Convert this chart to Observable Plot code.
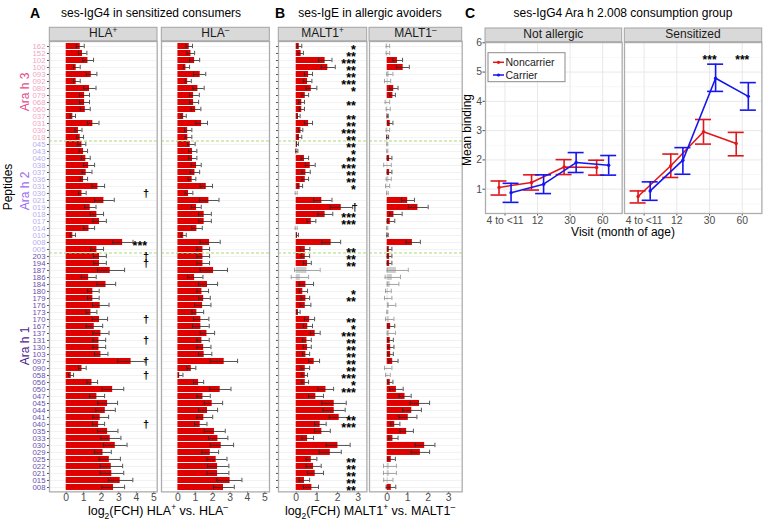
<!DOCTYPE html>
<html><head><meta charset="utf-8">
<script src="https://cdn.jsdelivr.net/npm/d3@7"></script>
<script src="https://cdn.jsdelivr.net/npm/@observablehq/plot@0.6"></script>
<style>
body{margin:0;background:#fff;font-family:"Liberation Sans",Arial,sans-serif;}
#root{position:relative;width:765px;height:527px;overflow:hidden;background:#fff;}
</style></head><body><div id="root"></div>
<script>
// ---------------- DATA ----------------
const araH3 = ["162","152","102","100","093","092","080","079","068","060","037","031","030","018"];
const araH2 = ["045","043","040","038","037","036","031","030","021","019","018","017","014","010","008","005"];
const araH1 = ["203","194","187","186","184","180","179","176","173","170","167","137","131","130","103","097","090","058","056","050","047","045","044","041","040","035","033","030","029","025","022","021","015","008"];

// Panel A, HLA+ (log2 FCH) with error-bar limits
const hlaPosValue = [0.8,0.93,1.24,0.57,1.43,0.57,1.33,1.05,1.05,1.09,0.38,1.52,0.7,0.8,
 0.9,0.99,1.12,1.28,1.14,0.99,1.81,0.9,2.15,1.37,1.75,1.9,1.3,0.38,3.22,1.75,
 1.9,1.9,2.51,1.28,2.27,1.52,1.52,1.94,1.41,1.9,1.6,1.98,1.87,1.87,1.98,3.7,0.9,0.29,1.47,2.65,1.75,2.36,2.23,1.94,1.85,2.36,2.51,2.8,2.1,2.46,2.57,2.6,3.08,2.7];
const hlaPosLow = [0.57,0.7,0.95,0.42,1.14,0.42,1.0,0.76,0.76,0.8,0.23,1.22,0.5,0.6,
 0.65,0.74,0.86,0.99,0.9,0.8,1.47,0.7,1.62,1.05,1.37,1.52,1.0,0.23,2.67,1.4,
 1.56,1.56,1.79,0.86,1.75,1.22,1.22,1.5,1.14,1.48,1.14,1.52,1.52,1.52,1.62,2.93,0.7,0.13,1.18,2.04,1.33,1.79,1.69,1.52,1.5,1.79,1.98,2.13,1.62,1.88,1.94,1.94,2.41,2.03];
const hlaPosHigh = [1.03,1.18,1.56,0.8,1.75,0.8,1.7,1.33,1.33,1.37,0.53,1.87,0.9,0.99,
 1.12,1.22,1.37,1.62,1.47,1.22,2.19,1.14,2.74,1.7,2.13,2.29,1.62,0.53,3.81,2.13,
 2.29,2.29,3.33,1.71,2.82,1.88,1.88,2.44,1.75,2.36,2.08,2.44,2.25,2.25,2.38,4.5,1.14,0.42,1.79,3.28,2.19,2.93,2.8,2.42,2.19,2.95,3.12,3.47,2.57,3.09,3.22,3.28,3.8,3.33];
const hlaPosSig = ["","","","","","","","","","","","","","",
 "","","","","","","","†","","","","","","","***","",
 "†","†","","","","","","","","†","","","†","","","†","","†","","","","","","","†","","","","","","","","",""];

// Panel A, HLA-
const hlaNegValue = [0.65,0.75,0.96,0.46,1.28,0.56,1.15,0.9,0.9,1.02,0.33,1.36,0.56,0.57,
 0.71,0.84,0.84,1.07,0.98,0.82,1.63,0.61,1.78,1.07,1.51,1.51,1.09,0.33,1.82,1.44,
 1.44,1.44,2.05,0.96,1.7,1.38,1.48,1.42,1.09,1.32,1.32,1.67,1.38,1.48,1.51,2.66,0.77,0.1,1.19,2.43,1.44,1.97,1.7,1.49,1.28,2.1,2.3,2.49,1.86,2.2,2.28,2.28,3.0,2.62];
const hlaNegLow = [0.46,0.52,0.67,0.33,0.9,0.42,0.86,0.67,0.67,0.75,0.19,1.03,0.38,0.42,
 0.56,0.61,0.61,0.77,0.71,0.59,1.28,0.42,1.25,0.77,1.19,1.19,0.8,0.19,1.28,1.09,
 1.09,1.09,1.28,0.56,1.19,1.09,1.19,0.96,0.8,0.9,0.84,1.28,1.09,1.09,1.19,1.86,0.52,0.04,0.9,1.82,1.09,1.51,1.19,1.09,0.96,1.51,1.76,1.86,1.38,1.67,1.71,1.67,2.24,2.05];
const hlaNegHigh = [0.84,0.96,1.25,0.67,1.6,0.77,1.51,1.23,1.19,1.32,0.48,1.7,0.8,0.8,
 0.99,1.09,1.09,1.34,1.25,1.03,1.99,0.86,2.36,1.34,1.92,1.92,1.4,0.48,2.43,1.82,
 1.82,1.82,2.85,1.44,2.28,1.76,1.86,1.9,1.48,1.78,1.8,2.11,1.8,1.9,1.95,3.43,1.03,0.29,1.48,3.05,1.86,2.57,2.28,2.0,1.67,2.72,2.87,3.2,2.34,2.82,2.93,2.93,3.68,3.24];

// Panel B, MALT1+
const malt1PosValue = [0.15,0.24,1.4,1.53,0.6,0.55,0.73,0.44,0.27,0.27,0.11,0.6,0.23,0.16,
 0.06,0.03,0.4,0.68,0.47,0.44,0.19,0.0,1.24,2.18,1.4,0.73,0.0,0.06,1.69,0.44,
 0.44,0.55,0.52,0.2,0.47,0.32,0.47,0.44,0.11,0.65,0.56,0.92,0.52,0.55,0.47,0.87,0.44,0.44,0.44,1.44,0.95,1.84,1.84,2.08,1.16,1.24,0.55,2.02,1.65,0.73,0.84,0.92,0.4,0.76];
const malt1PosLow = [0.05,0.08,1.08,1.21,0.4,0.35,0.48,0.27,0.11,0.15,0.05,0.4,0.11,0.06,
 0.02,-0.02,0.24,0.44,0.27,0.27,0.08,-0.05,0.84,1.65,1.05,0.52,-0.05,0.02,1.24,0.2,
 0.24,0.35,-0.08,-0.24,0.15,0.15,0.24,0.19,0.03,0.4,0.35,0.68,0.31,0.35,0.31,0.6,0.24,0.27,0.27,1.05,0.6,1.24,1.29,1.6,0.89,0.89,0.27,1.45,1.11,0.48,0.48,0.55,0.15,0.35];
const malt1PosHigh = [0.27,0.35,1.73,1.89,0.79,0.76,1.0,0.6,0.4,0.4,0.19,0.79,0.32,0.27,
 0.11,0.08,0.6,0.92,0.68,0.6,0.31,0.05,1.73,2.73,1.77,0.95,0.05,0.11,2.15,0.66,
 0.65,0.73,1.16,0.6,0.84,0.55,0.65,0.71,0.19,0.89,0.79,1.16,0.73,0.73,0.65,1.13,0.65,0.55,0.6,1.81,1.32,2.42,2.37,2.56,1.45,1.65,0.84,2.61,2.18,1.0,1.21,1.32,0.65,1.08];
const malt1PosSig = ["*","**","***","**","**","***","*","","**","","**","**","***","**",
 "**","*","**","***","**","**","*","","","†","***","***","","","","**",
 "**","**","","","","*","**","","","**","*","***","**","**","**","**","**","***","*","***","","","","**","***","","","","","**","**","**","**","**"];
const malt1PosGray = ["h2-030","h2-014","h1-187","h1-186"];

// Panel B, MALT1-
const malt1NegValue = [0.03,0.03,0.5,0.78,0.1,0.05,0.32,0.28,0.02,0.03,0.02,0.15,0.03,0.03,
 0.01,0.01,0.12,0.03,0.12,0.08,0.03,0.01,1.0,1.5,0.33,0.15,0.0,0.02,1.23,0.1,
 0.12,0.12,0.45,0.25,0.15,0.05,0.03,0.1,0.0,0.1,0.17,0.12,0.15,0.17,0.17,0.27,0.02,0.03,0.15,0.45,0.87,1.58,1.2,1.03,0.37,0.95,0.28,1.83,1.62,0.2,0.1,0.1,0.05,0.2];
const malt1NegLow = [-0.05,-0.05,0.28,0.45,-0.02,-0.13,0.12,0.12,-0.1,-0.05,0.0,0.03,-0.05,-0.03,
 -0.02,-0.02,0.0,-0.17,0.0,-0.05,-0.08,-0.03,0.7,1.03,0.12,0.0,-0.03,-0.01,0.92,0.03,
 0.0,0.0,0.0,-0.1,0.0,-0.08,-0.13,0.03,-0.02,-0.08,0.03,0.0,0.03,0.03,0.03,0.07,-0.13,-0.08,0.03,0.12,0.58,1.12,0.75,0.58,0.17,0.62,0.08,1.37,1.17,0.03,-0.18,-0.18,-0.17,-0.05];
const malt1NegHigh = [0.12,0.12,0.75,1.08,0.28,0.17,0.53,0.4,0.12,0.15,0.05,0.28,0.12,0.07,
 0.03,0.03,0.23,0.2,0.23,0.2,0.12,0.05,1.33,2.0,0.73,0.37,0.03,0.05,1.62,0.23,
 0.23,0.23,1.03,0.65,0.57,0.2,0.23,0.42,0.03,0.33,0.37,0.4,0.3,0.33,0.3,0.53,0.23,0.15,0.28,0.78,1.17,2.07,1.67,1.45,0.62,1.28,0.53,2.33,2.07,0.4,0.45,0.45,0.28,0.42];
const malt1NegGray = ["h3-162","h3-152","h3-093","h3-092","h3-068","h3-060","h3-030","h2-045","h2-043","h2-038","h2-036","h2-031","h2-030","h2-014","h1-187","h1-186","h1-184","h1-180","h1-179","h1-176","h1-173","h1-170","h1-137","h1-090","h1-058","h1-022","h1-021","h1-015"];

// Panel C
const visits = ["4 to <11","12","30","60"];
const naNoncarrier = [1.06,1.23,1.76,1.74], naNoncarrierLow = [0.8,0.97,1.5,1.48], naNoncarrierHigh = [1.28,1.49,2.01,1.99];
const naCarrier = [0.88,1.17,1.91,1.82], naCarrierLow = [0.55,0.85,1.57,1.48], naCarrierHigh = [1.2,1.49,2.25,2.15];
const seNoncarrier = [0.75,1.8,2.96,2.56], seNoncarrierLow = [0.53,1.4,2.54,2.14], seNoncarrierHigh = [0.94,2.2,3.38,2.94];
const seCarrier = [0.94,1.99,4.79,4.17], seCarrierLow = [0.62,1.51,4.34,3.7], seCarrierHigh = [1.25,2.42,5.27,4.64];
const seSig = ["","","***","***"];
const naSig = ["","","",""];
const cTicks = [1,2,3,4,5,6];
const cMinor = [0.5,1.5,2.5,3.5,4.5,5.5];

// ---------------- LAYOUT ----------------
const FONT = "Liberation Sans, Arial, sans-serif";
const root = document.getElementById("root");
function place(node, left, top){
  node.style.position = "absolute"; node.style.left = left + "px"; node.style.top = top + "px";
  node.style.overflow = "visible"; root.appendChild(node);
}
const groups = [["h3", araH3], ["h2", araH2], ["h1", araH1]];
const rows = [];
groups.forEach(([g, list]) => list.forEach(p => rows.push({grp: g, pep: p, key: g + "-" + p})));
const keys = rows.map(r => r.key);
const firstOfGroup = ["h2-" + araH2[0], "h1-" + araH1[0]];
const tickColor = {h3: "#f0a6c4", h2: "#b9acef", h1: "#6a4fae"};
const RED = "#df0000";
const intFmt = d => String(d);

const TOP = 40.8, BOT = 491.2;
function barPanel(o){
  const mL = o.yLabels ? 36 : (o.yTicks ? 3 : 1), mR = 1, mT = 1, mB = 22;
  const h = BOT - TOP, w = o.R - o.L;
  const step = h / (rows.length + 0.2);
  const data = rows.map((r, i) => ({key: r.key, pep: r.pep, grp: r.grp, v: o.v[i], lo: o.lo[i], hi: o.hi[i],
    gray: o.gray.includes(r.key), sig: o.sig ? o.sig[i] : ""}));
  const errColor = d => d.gray ? "#8f8f8f" : "#2a2a2a";
  const marks = [
    Plot.ruleY(keys, {y: d => d, stroke: "#ececec", strokeWidth: 0.7}),
    Plot.barX(data, {x: "v", y: "key", fill: d => d.gray ? "#cdcdcd" : RED}),
    Plot.ruleY(data, {y: "key", x1: "lo", x2: "hi", stroke: errColor, strokeWidth: 0.8}),
    Plot.tickX(data, {x: "lo", y: "key", stroke: errColor, strokeWidth: 0.8, insetTop: 0.8, insetBottom: 0.8}),
    Plot.tickX(data, {x: "hi", y: "key", stroke: errColor, strokeWidth: 0.8, insetTop: 0.8, insetBottom: 0.8}),
    Plot.ruleY(firstOfGroup, {y: d => d, dy: -step / 2, stroke: "#a6dc74", strokeWidth: 1, strokeDasharray: "3,2"}),
    Plot.text(data.filter(d => d.sig.includes("*")), {y: "key", text: "sig", frameAnchor: "right", dx: o.sigDx, dy: 3.4, fontSize: 12.5, fontWeight: "bold", fill: "#000"}),
    Plot.text(data.filter(d => d.sig && !d.sig.includes("*")), {y: "key", text: "sig", frameAnchor: "right", dx: o.sigDx + 2, dy: 0, fontSize: 11, fontWeight: "bold", fill: "#000"}),
    Plot.frame({stroke: "#adadad", strokeWidth: 1.3})
  ];
  if (o.yLabels) marks.push(Plot.text(data, {y: "key", text: "pep", frameAnchor: "left", dx: -4, textAnchor: "end",
    fill: d => tickColor[d.grp], fontSize: 7.8}));
  const chart = Plot.plot({
    width: w + mL + mR, height: h + mT + mB,
    marginLeft: mL, marginRight: mR, marginTop: mT, marginBottom: mB,
    x: {domain: o.domain, ticks: o.ticks, tickFormat: intFmt, tickSize: 2, tickPadding: 0, label: null},
    y: {type: "band", domain: keys, paddingInner: 0.1, paddingOuter: 0.15, axis: (o.yTicks || o.yLabels) ? "left" : null,
        tickSize: 2, tickFormat: () => "", label: null},
    color: {type: "identity"},
    style: {fontFamily: FONT, fontSize: "10.4px", color: "#4d4d4d", background: "transparent", overflow: "visible"},
    marks
  });
  place(chart, o.L - mL, TOP - mT);
}

barPanel({L: 49.3, R: 157, domain: [-0.952, 5.188], ticks: [0,1,2,3,4,5], v: hlaPosValue, lo: hlaPosLow, hi: hlaPosHigh,
  sig: hlaPosSig, gray: [], yLabels: true, sigDx: -10});
barPanel({L: 161.3, R: 269.3, domain: [-0.943, 5.264], ticks: [0,1,2,3,4,5], v: hlaNegValue, lo: hlaNegLow, hi: hlaNegHigh,
  sig: null, gray: [], sigDx: -10});
barPanel({L: 278.3, R: 366.7, domain: [-0.856, 3.42], ticks: [0,1,2,3], v: malt1PosValue, lo: malt1PosLow, hi: malt1PosHigh,
  sig: malt1PosSig, gray: malt1PosGray, yTicks: true, sigDx: -11});
barPanel({L: 369, R: 461.7, domain: [-0.863, 3.66], ticks: [0,1,2,3], v: malt1NegValue, lo: malt1NegLow, hi: malt1NegHigh,
  sig: null, gray: malt1NegGray, sigDx: -11});

// Panel C
const C_TOP = 41.7, C_BOT = 212.7;
const CRED = "#e0161b", CBLUE = "#1515ee";
function linePanel(o){
  const mL = o.yAxis ? 16 : 1, mR = 1, mT = 1, mB = 18;
  const w = o.R - o.L, h = C_BOT - C_TOP;
  const dodge = 0.185, cap = 0.245;
  const series = [
    {color: CRED, off: -dodge, v: o.non, lo: o.nonLo, hi: o.nonHi},
    {color: CBLUE, off: dodge, v: o.car, lo: o.carLo, hi: o.carHi}
  ];
  const marks = [
    Plot.ruleY(cMinor, {stroke: "#f2f2f2", strokeWidth: 0.6}),
    Plot.ruleY(cTicks, {stroke: "#e8e8e8", strokeWidth: 1}),
    Plot.ruleX(visits.map((_, i) => i), {stroke: "#e8e8e8", strokeWidth: 1})
  ];
  for (const s of series) {
    const pts = visits.map((vis, i) => ({x: i + s.off, v: s.v[i], lo: s.lo[i], hi: s.hi[i]}));
    marks.push(
      Plot.line(pts, {x: "x", y: "v", stroke: s.color, strokeWidth: 1.6}),
      Plot.ruleX(pts, {x: "x", y1: "lo", y2: "hi", stroke: s.color, strokeWidth: 1.6}),
      Plot.ruleY(pts, {y: "lo", x1: d => d.x - cap, x2: d => d.x + cap, stroke: s.color, strokeWidth: 1.6}),
      Plot.ruleY(pts, {y: "hi", x1: d => d.x - cap, x2: d => d.x + cap, stroke: s.color, strokeWidth: 1.6}),
      Plot.dot(pts, {x: "x", y: "v", r: 1.7, fill: s.color, stroke: "none"})
    );
  }
  marks.push(
    Plot.text(visits.map((v, i) => ({x: i, s: o.sig[i]})).filter(d => d.s), {x: "x", text: "s", frameAnchor: "top", dy: 13, fontSize: 12, fontWeight: "bold", fill: "#000"}),
    Plot.frame({stroke: "#adadad", strokeWidth: 1.3})
  );
  const chart = Plot.plot({
    width: w + mL + mR, height: h + mT + mB,
    marginLeft: mL, marginRight: mR, marginTop: mT, marginBottom: mB,
    x: {domain: [-0.6, 3.6], ticks: visits.map((_, i) => i), tickFormat: i => visits[i], tickSize: 2.5, tickPadding: 1, label: null},
    y: {domain: [0.17, 6.01], ticks: cTicks, tickFormat: intFmt, tickSize: 2.5, tickPadding: 1, label: null, axis: o.yAxis ? "left" : null},
    style: {fontFamily: FONT, fontSize: "10.4px", color: "#4d4d4d", background: "transparent", overflow: "visible"},
    marks
  });
  place(chart, o.L - mL, C_TOP - mT);
}
linePanel({L: 485, R: 621.7, yAxis: true, non: naNoncarrier, nonLo: naNoncarrierLow, nonHi: naNoncarrierHigh,
  car: naCarrier, carLo: naCarrierLow, carHi: naCarrierHigh, sig: naSig});
linePanel({L: 624.3, R: 761.7, yAxis: false, non: seNoncarrier, nonLo: seNoncarrierLow, nonHi: seNoncarrierHigh,
  car: seCarrier, carLo: seCarrierLow, carHi: seCarrierHigh, sig: seSig});

// ---------------- ANNOTATION OVERLAY ----------------
const ov = d3.create("svg").attr("width", 765).attr("height", 527)
  .style("position", "absolute").style("left", "0px").style("top", "0px").style("pointer-events", "none")
  .style("font-family", FONT);
function label(x, y, parts, opt = {}) {
  const size = opt.size || 12;
  const t = ov.append("text").attr("transform", `translate(${x},${y}) rotate(${opt.rotate || 0})`)
    .attr("text-anchor", opt.anchor || "middle").attr("font-size", size)
    .attr("font-weight", opt.weight || "normal").attr("fill", opt.fill || "#000");
  let shift = 0;
  for (const p of (typeof parts === "string" ? [[parts, "n"]] : parts)) {
    const [s, k] = p;
    const target = k === "sup" ? -size * 0.38 : k === "sub" ? size * 0.3 : 0;
    t.append("tspan").attr("dy", target - shift).attr("font-size", k === "n" ? size : size * 0.68).text(s);
    shift = target;
  }
}
function strip(L, R, T, B, parts) {
  ov.append("rect").attr("x", L).attr("y", T).attr("width", R - L).attr("height", B - T)
    .attr("fill", "#d9d9d9").attr("stroke", "#a3a3a3").attr("stroke-width", 1);
  label((L + R) / 2, B - 3.5, parts, {size: 12, fill: "#1a1a1a"});
}
strip(49.3, 157, 27.3, TOP, [["HLA", "n"], ["+", "sup"]]);
strip(161.3, 269.3, 27.3, TOP, [["HLA", "n"], ["–", "sup"]]);
strip(278.3, 366.7, 27.3, TOP, [["MALT1", "n"], ["+", "sup"]]);
strip(369, 461.7, 27.3, TOP, [["MALT1", "n"], ["–", "sup"]]);
strip(485, 621.7, 28, C_TOP, "Not allergic");
strip(624.3, 761.7, 28, C_TOP, "Sensitized");

label(35, 18, "A", {size: 14, weight: "bold"});
label(151, 17, "ses-IgG4 in sensitized consumers", {size: 12});
label(280, 18, "B", {size: 14, weight: "bold"});
label(370, 17, "ses-IgE in allergic avoiders", {size: 12});
label(470, 18, "C", {size: 14, weight: "bold"});
label(623, 17, "ses-IgG4 Ara h 2.008 consumption group", {size: 12});

label(12, 187, "Peptides", {size: 12, rotate: -90});
label(29, 92, "Ara h 3", {size: 12, rotate: -90, fill: "#e24b8c"});
label(29, 191, "Ara h 2", {size: 12, rotate: -90, fill: "#9b6bee"});
label(29, 346, "Ara h 1", {size: 12, rotate: -90, fill: "#4b2391"});

label(158, 515, [["log", "n"], ["2", "sub"], ["(FCH) HLA", "n"], ["+", "sup"], [" vs. HLA", "n"], ["–", "sup"]], {size: 12.5});
label(370, 515, [["log", "n"], ["2", "sub"], ["(FCH) MALT1", "n"], ["+", "sup"], [" vs. MALT1", "n"], ["–", "sup"]], {size: 12.5});
label(623, 236, "Visit (month of age)", {size: 12});
label(471, 130, "Mean binding", {size: 12, rotate: -90});

// legend
const lg = ov.append("g");
lg.append("rect").attr("x", 488).attr("y", 52.7).attr("width", 77).attr("height", 29).attr("fill", "#fff").attr("stroke", "#8a8a8a").attr("stroke-width", 1);
[["Noncarrier", CRED, 62.3], ["Carrier", CBLUE, 75]].forEach(([t, c, y]) => {
  lg.append("line").attr("x1", 493).attr("x2", 504).attr("y1", y).attr("y2", y).attr("stroke", c).attr("stroke-width", 1.5);
  lg.append("circle").attr("cx", 498.5).attr("cy", y).attr("r", 1.6).attr("fill", c);
  label(505.5, y + 3.8, t, {size: 10.5, anchor: "start", fill: "#1a1a1a"});
});
root.appendChild(ov.node());
</script></body></html>
